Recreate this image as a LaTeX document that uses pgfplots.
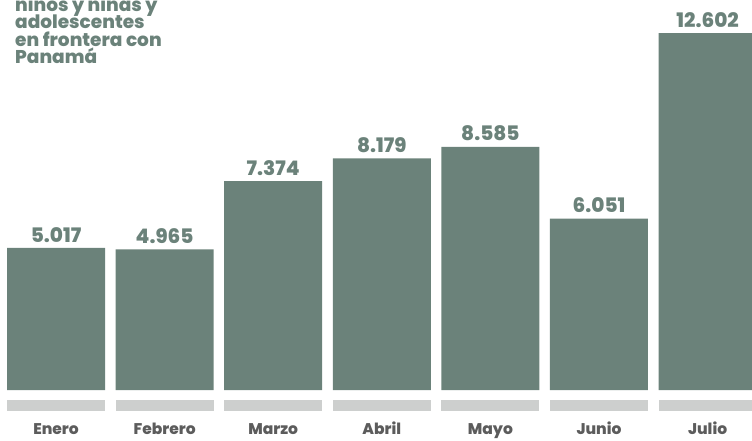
\documentclass[border=0pt]{standalone}
\usepackage{pgfplots}
\pgfplotsset{compat=1.18}
\usepackage{fontspec}
\setmainfont{Poppins}
\newfontfamily\heavy{Poppins}[UprightFont=* ExtraBold]
\definecolor{barc}{RGB}{107,130,122}
\definecolor{labc}{RGB}{92,92,92}
\definecolor{bandc}{RGB}{205,207,206}
\begin{document}
\begin{tikzpicture}
\begin{axis}[
  at={(0pt,50pt)}, anchor=south west,
  scale only axis, width=752pt, height=390pt,
  xmin=-0.5157, xmax=6.409, ymin=0, ymax=13767,
  enlargelimits=false,
  clip=false,
  ybar, bar width=98pt,
  axis line style={draw=none},
  major tick length=0pt,
  ytick=\empty,
  xtick={0,...,6},
  xticklabels={Enero,Febrero,Marzo,Abril,Mayo,Junio,Julio},
  xticklabel style={anchor=base, yshift=-44.5pt, font=\fontsize{15.5}{18}\selectfont\heavy, text=labc},
  /pgf/number format/.cd, fixed, precision=0, 1000 sep={.}, assume math mode=true,
  /pgfplots/.cd,
  nodes near coords,
  every node near coord/.append style={anchor=south, inner sep=0pt, yshift=5.5pt, font=\fontsize{20}{22}\selectfont\heavy, text=barc},
]
\addplot[fill=barc, draw=none] coordinates {(0,5017) (1,4965) (2,7374) (3,8179) (4,8585) (5,6051) (6,12602)};
\pgfplotsinvokeforeach{0,...,6}{
  \fill[bandc] (axis cs:#1-0.451,-353) rectangle (axis cs:#1+0.451,-741);
}
\end{axis}
\begin{scope}[every node/.style={anchor=base west, inner sep=0pt, text=barc, font=\fontsize{18.5}{17}\selectfont\heavy}]
\node at (15pt,428.5pt) {niños y niñas y};
\node at (15pt,411pt) {adolescentes};
\node at (15pt,393.5pt) {en frontera con};
\node at (15pt,376pt) {Panamá};
\end{scope}
\pgfresetboundingbox
\useasboundingbox (0pt,0pt) rectangle (752pt,440pt);
\end{tikzpicture}
\end{document}
